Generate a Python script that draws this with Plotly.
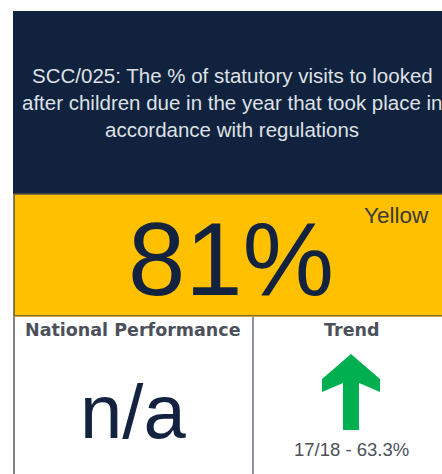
import plotly.graph_objects as go

# ---- data ----
title_lines = [
    "SCC/025: The % of statutory visits to looked",
    "after children due in the year that took place in",
    "accordance with regulations",
]
value_label = "81%"
rag_status = "Yellow"
national_header = "National Performance"
national_value = "n/a"
trend_header = "Trend"
trend_direction = "up"
trend_label = "17/18 - 63.3%"

W, H = 442, 474
NAVY = "#10223e"
YELLOW = "#ffc000"
GREEN = "#00b050"
GREY_TXT = "#4b505a"

fig = go.Figure()
fig.add_trace(go.Scatter(x=[0], y=[0], mode="markers", marker=dict(opacity=0), hoverinfo="skip", showlegend=False))

shapes = []
# navy title panel
shapes.append(dict(type="rect", x0=13, x1=460, y0=11, y1=194, fillcolor=NAVY, line=dict(width=0), layer="below"))
# yellow value panel
shapes.append(dict(type="rect", x0=14, x1=460, y0=194, y1=316, fillcolor=YELLOW,
                   line=dict(color="#5a5442", width=1.5), layer="below"))
# bottom cells borders
shapes.append(dict(type="line", x0=14, x1=14, y0=316, y1=480, line=dict(color="#7d838d", width=2)))
shapes.append(dict(type="line", x0=253, x1=253, y0=316, y1=480, line=dict(color="#8c929b", width=2)))
shapes.append(dict(type="line", x0=14, x1=460, y0=316.5, y1=316.5, line=dict(color="#c9a43a", width=1)))
# trend arrow
if trend_direction == "up":
    shapes.append(dict(type="path",
                       path="M 351 354 L 380 379 L 380 392 L 359 383 L 359 430 L 343 430 L 343 383 L 322 392 L 322 379 Z",
                       fillcolor=GREEN, line=dict(width=0)))

ann = []
ys = [75, 102, 129]
for t, y in zip(title_lines, ys):
    ann.append(dict(x=232, y=y, text=t, showarrow=False, xanchor="center", yanchor="middle",
                    font=dict(family="Liberation Sans, Arial", size=20.5, color="#dfe1e5")))
ann.append(dict(x=231, y=296, text=value_label, showarrow=False, xanchor="center", yanchor="bottom",
                yshift=-23, font=dict(family="Liberation Sans, Arial", size=103, color="#13233f")))
ann.append(dict(x=396, y=215, text=rag_status, showarrow=False, xanchor="center", yanchor="middle",
                font=dict(family="Liberation Sans, Arial", size=22.5, color="#3b3a33")))
ann.append(dict(x=132.5, y=329.5, text="<b>%s</b>" % national_header, showarrow=False, xanchor="center", yanchor="middle",
                font=dict(family="DejaVu Sans", size=17.5, color=GREY_TXT)))
ann.append(dict(x=352, y=329.5, text="<b>%s</b>" % trend_header, showarrow=False, xanchor="center", yanchor="middle",
                font=dict(family="DejaVu Sans", size=17.5, color=GREY_TXT)))
ann.append(dict(x=133, y=411, text=national_value, showarrow=False, xanchor="center", yanchor="middle",
                font=dict(family="Liberation Sans, Arial", size=76, color="#13233f")))
ann.append(dict(x=351, y=449, text=trend_label, showarrow=False, xanchor="center", yanchor="middle",
                font=dict(family="Liberation Sans, Arial", size=18.5, color=GREY_TXT)))

fig.update_layout(
    width=W, height=H,
    margin=dict(l=0, r=0, t=0, b=0),
    paper_bgcolor="white", plot_bgcolor="white",
    xaxis=dict(range=[0, W], visible=False, fixedrange=True),
    yaxis=dict(range=[H, 0], visible=False, fixedrange=True),
    shapes=shapes, annotations=ann, showlegend=False,
)
fig.write_html("out.html", config={"displayModeBar": False},
               post_script="document.body.style.margin='0';document.body.style.overflow='hidden';")
